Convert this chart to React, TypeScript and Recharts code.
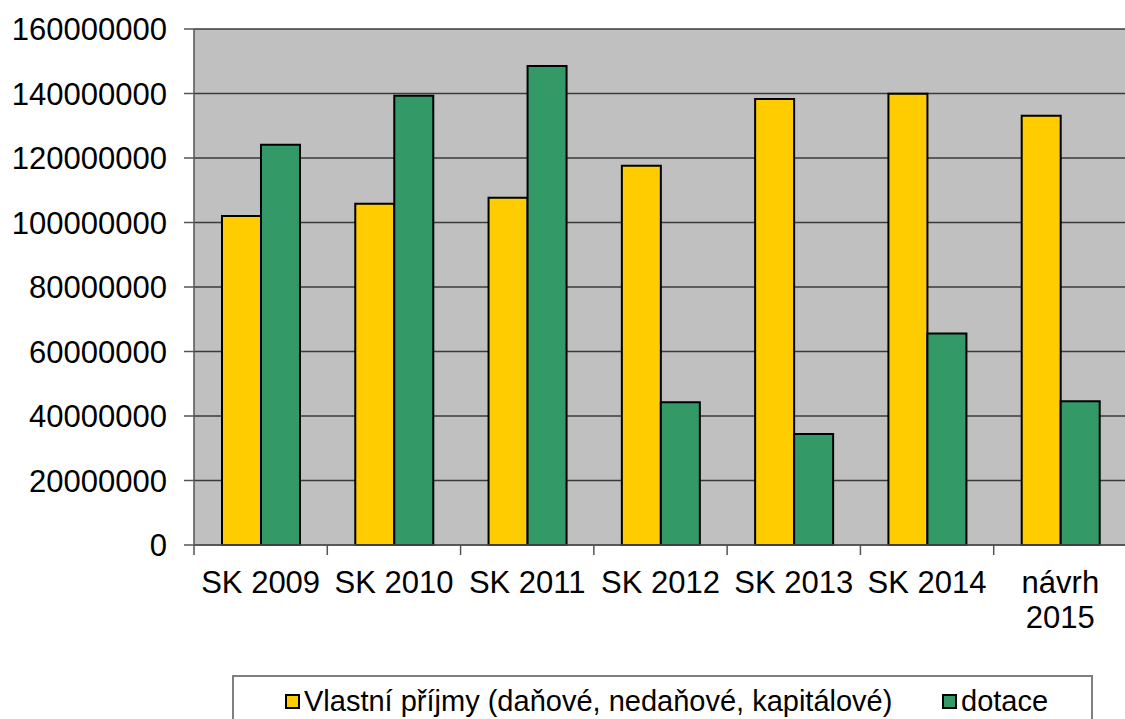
import { BarChart, Bar, XAxis, YAxis, CartesianGrid, Legend } from 'recharts';

const categories = ['SK 2009', 'SK 2010', 'SK 2011', 'SK 2012', 'SK 2013', 'SK 2014', 'návrh 2015'];
const vlastniPrijmy = [102000000, 105800000, 107700000, 117600000, 138300000, 139900000, 133100000];
const dotace = [124100000, 139300000, 148500000, 44300000, 34400000, 65600000, 44600000];
const yTicks = [0, 20000000, 40000000, 60000000, 80000000, 100000000, 120000000, 140000000, 160000000];

const series = [
  { key: 'vlastni', name: 'Vlastní příjmy (daňové, nedaňové, kapitálové)', color: '#FFCC00' },
  { key: 'dotace', name: 'dotace', color: '#339966' },
];

const data = categories.map((name, i) => ({ name, vlastni: vlastniPrijmy[i], dotace: dotace[i] }));

const FONT = '"Liberation Sans", Arial, sans-serif';
const CHART_W = 1130;
const PLOT_LEFT = 194;
const PLOT_RIGHT = 3;
const BAND = (CHART_W - PLOT_LEFT - PLOT_RIGHT) / categories.length;

function CategoryTick(props: any) {
  const { x, y, payload } = props;
  const words = String(payload.value);
  const lines = words.startsWith('návrh') ? words.split(' ') : [words];
  return (
    <g>
      <line x1={x - BAND / 2} y1={y} x2={x - BAND / 2} y2={y + 10} stroke="#555" strokeWidth={1.5} />
      <text x={x} y={y} textAnchor="middle" fontFamily={FONT} fontSize={31} fill="#000">
        {lines.map((l, i) => (
          <tspan key={i} x={x} dy={i === 0 ? 48 : 35}>{l}</tspan>
        ))}
      </text>
    </g>
  );
}

function LegendBox() {
  return (
    <div
      style={{
        position: 'absolute',
        left: 232,
        top: 675,
        width: 861,
        height: 60,
        border: '2px solid #7f7f7f',
        boxSizing: 'border-box',
        fontFamily: FONT,
        fontSize: 29,
        color: '#000',
      }}
    >
      {series.map((s, i) => (
        <div
          key={s.key}
          style={{
            position: 'absolute',
            left: i === 0 ? 51 : 708,
            top: 8,
            display: 'flex',
            alignItems: 'center',
            whiteSpace: 'nowrap',
          }}
        >
          <span
            style={{
              width: 15,
              height: 15,
              background: s.color,
              border: '2px solid #000',
              boxSizing: 'border-box',
              marginRight: 4,
              display: 'inline-block',
            }}
          />
          <span>{s.name}</span>
        </div>
      ))}
    </div>
  );
}

export default function App() {
  return (
    <div style={{ position: 'absolute', left: 0, top: 0, width: 1125, height: 719, overflow: 'hidden', background: '#fff' }}>
      <BarChart
        width={CHART_W}
        height={719}
        data={data}
        margin={{ top: 29, right: PLOT_RIGHT, bottom: 0, left: 0 }}
        barCategoryGap="21%"
        barGap={0}
      >
        <CartesianGrid vertical={false} fill="#C0C0C0" stroke="#3a3a3a" strokeWidth={1.5} />
        <XAxis
          dataKey="name"
          height={174}
          tick={<CategoryTick />}
          tickLine={false}
          tickSize={0}
          tickMargin={0}
          interval={0}
          axisLine={{ stroke: '#555', strokeWidth: 1.5 }}
        />
        <YAxis
          width={PLOT_LEFT}
          domain={[0, 160000000]}
          ticks={yTicks}
          interval={0}
          tickSize={10}
          tickMargin={17}
          tickLine={{ stroke: '#555', strokeWidth: 1.5 }}
          axisLine={{ stroke: '#555', strokeWidth: 1.5 }}
          tick={{ fontFamily: FONT, fontSize: 31, fill: '#000' }}
        />
        <Legend content={() => <LegendBox />} wrapperStyle={{ position: 'absolute', left: 0, top: 0, width: 0, height: 0 }} />
        {series.map((s) => (
          <Bar key={s.key} dataKey={s.key} name={s.name} fill={s.color} stroke="#000" strokeWidth={2} isAnimationActive={false} />
        ))}
      </BarChart>
    </div>
  );
}
